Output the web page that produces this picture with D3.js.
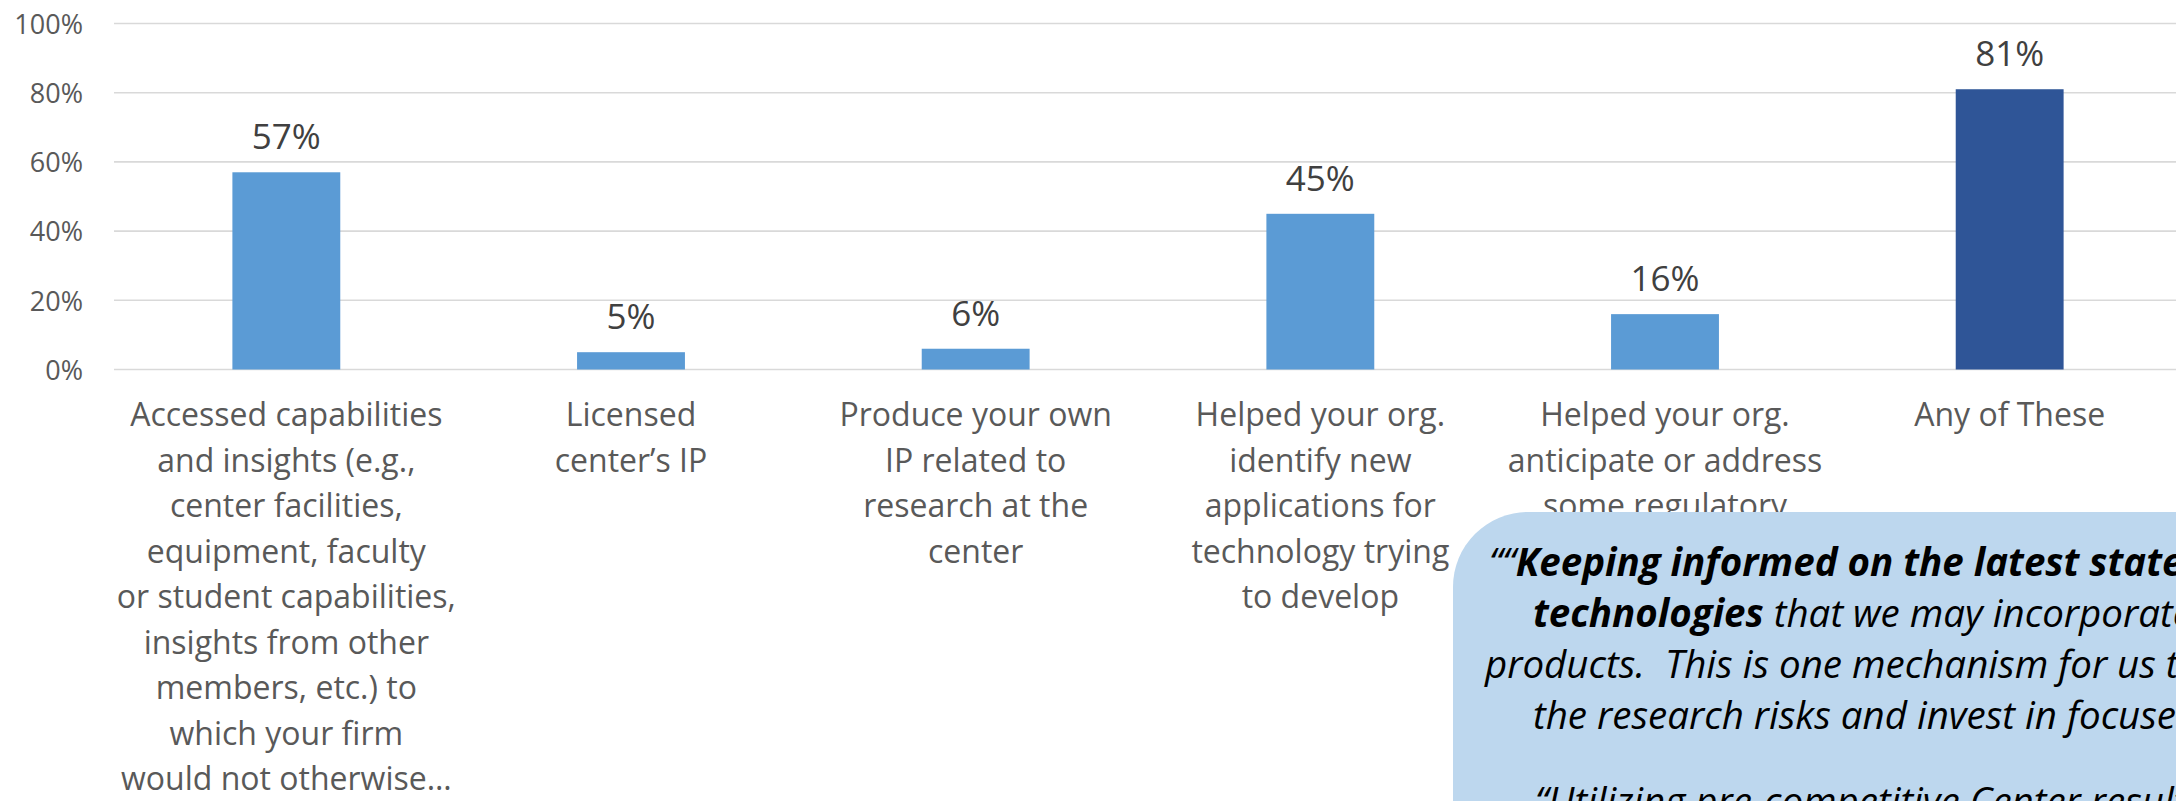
<!DOCTYPE html>
<html>
<head>
<meta charset="utf-8">
<script src="https://cdn.jsdelivr.net/npm/d3@7"></script>
<style>
  html, body { margin: 0; padding: 0; background: #fff; overflow: hidden; }
  svg { display: block; }
  text { font-family: "Open Sans", "Noto Sans", sans-serif; }
</style>
</head>
<body>
<svg id="chart" width="2176" height="801"></svg>
<script>
// Share of member firms reporting each kind of benefit
const categories = [
  "Accessed capabilities",
  "Licensed center’s IP",
  "Produce your own IP",
  "Identify new applications",
  "Regulatory requirements",
  "Any of These"
];
const categoryLines = [
  ["Accessed capabilities", "and insights (e.g.,", "center facilities,", "equipment, faculty",
   "or student capabilities,", "insights from  other", "members, etc.) to", "which your firm",
   "would not otherwise…"],
  ["Licensed", "center’s IP"],
  ["Produce your own", "IP related to", "research at the", "center"],
  ["Helped your org.", "identify new", "applications for", "technology trying", "to develop"],
  ["Helped your org.", "anticipate or address", "some regulatory"],
  ["Any of These"]
];
const values = [0.57, 0.05, 0.06, 0.45, 0.16, 0.81];
const highlighted = [false, false, false, false, false, true];
const yTicks = [0, 0.2, 0.4, 0.6, 0.8, 1.0];

// Quote shown in the callout: each line is a list of [text, bold] runs
const quoteLines = [
  [["““", false], ["Keeping informed on the latest state of", true]],
  [["technologies", true], [" that we may incorporate", false]],
  [["products.  This is one mechanism for us to", false]],
  [["the research risks and invest in focused", false]],
  [],
  [["“Utilizing pre-competitive Center results", false]]
];

const svg = d3.select("#chart");

const x = d3.scaleBand()
  .domain(categories)
  .range([114, 2182])
  .paddingInner(0.687)
  .paddingOuter(0.3435);

const y = d3.scaleLinear().domain([0, 1]).range([369.5, 23.5]);

// Gridlines
svg.append("g")
  .selectAll("line")
  .data(yTicks)
  .join("line")
  .attr("x1", 114)
  .attr("x2", 2176)
  .attr("y1", d => y(d))
  .attr("y2", d => y(d))
  .attr("stroke", "#D9D9D9")
  .attr("stroke-width", 1.6);

// Y axis labels
const yAxis = d3.axisLeft(y)
  .tickValues(yTicks)
  .tickFormat(d3.format(".0%"))
  .tickSize(0)
  .tickPadding(0);
const yg = svg.append("g").attr("transform", "translate(83,0)").call(yAxis);
yg.select(".domain").remove();
yg.selectAll("text")
  .attr("font-size", 27)
  .attr("fill", "#595959")
  .attr("dy", "0.36em")
  .style("font-family", "'Open Sans', sans-serif");

// Bars
svg.append("g")
  .selectAll("rect")
  .data(values)
  .join("rect")
  .attr("x", (d, i) => x(categories[i]))
  .attr("width", x.bandwidth())
  .attr("y", d => y(d))
  .attr("height", d => y(0) - y(d))
  .attr("fill", (d, i) => highlighted[i] ? "#2F5597" : "#5B9BD5");

// Value labels
svg.append("g")
  .selectAll("text")
  .data(values)
  .join("text")
  .attr("x", (d, i) => x(categories[i]) + x.bandwidth() / 2)
  .attr("y", d => y(d) - 23)
  .attr("text-anchor", "middle")
  .attr("font-size", 35)
  .attr("fill", "#404040")
  .text(d3.format(".0%"));

// Category labels
const catG = svg.append("g");
categoryLines.forEach((lines, i) => {
  const cx = x(categories[i]) + x.bandwidth() / 2;
  catG.append("text")
    .attr("text-anchor", "middle")
    .attr("font-size", 32)
    .attr("fill", "#595959")
    .selectAll("tspan")
    .data(lines)
    .join("tspan")
    .attr("x", cx)
    .attr("y", (d, j) => 426 + j * 45.5)
    .text(d => d);
});

// Callout with member quote
const boxX = 1453, boxY = 512;
svg.append("defs").append("clipPath")
  .attr("id", "callout-clip")
  .append("rect")
  .attr("x", boxX).attr("y", boxY)
  .attr("width", 2176 - boxX).attr("height", 801 - boxY);

const callout = svg.append("g").attr("clip-path", "url(#callout-clip)");
callout.append("rect")
  .attr("x", boxX)
  .attr("y", boxY)
  .attr("width", 900)
  .attr("height", 500)
  .attr("rx", 75)
  .attr("ry", 75)
  .attr("fill", "#BDD7EE");

const lineStarts = [1489, 1533, 1485, 1533, 0, 1535];
const lineBase = [576, 627, 678, 729, 0, 815];
quoteLines.forEach((runs, i) => {
  if (!runs.length) return;
  const t = callout.append("text")
    .attr("x", lineStarts[i])
    .attr("y", lineBase[i])
    .attr("font-size", 38.5)
    .attr("font-style", "italic")
    .attr("fill", "#000");
  runs.forEach(([str, bold]) => {
    t.append("tspan")
      .attr("font-weight", bold ? 700 : 400)
      .style("white-space", "pre")
      .text(str);
  });
});
</script>
</body>
</html>
